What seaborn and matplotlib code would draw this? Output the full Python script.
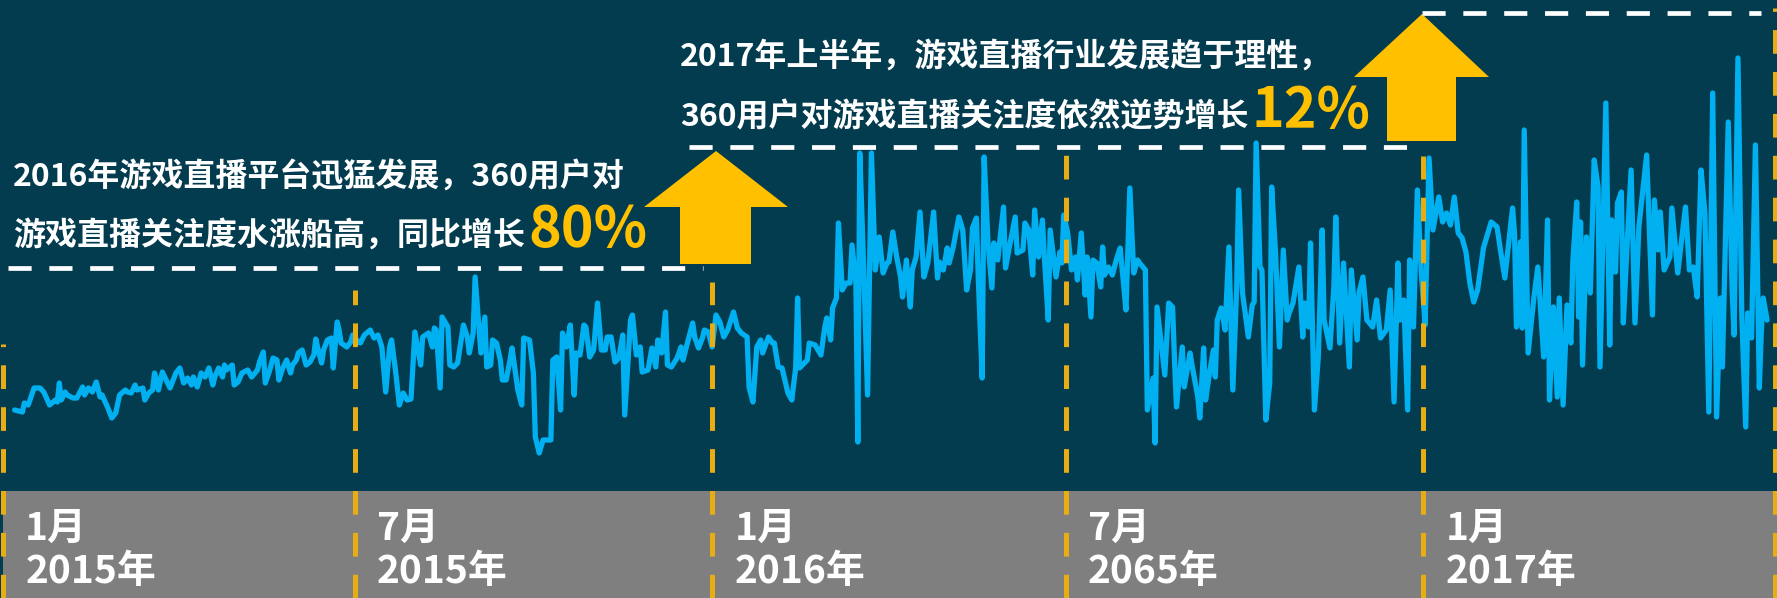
import pandas as pd
import seaborn as sns
import matplotlib.pyplot as plt
from matplotlib.patches import Polygon

plt.rcParams['font.family'] = ['Noto Sans CJK SC', 'DejaVu Sans']

# 360 游戏直播关注度 (index), x = days since 2015-01-01
h1_2015_days = [6, 10, 11, 13, 16, 19, 21, 24, 27, 28, 29, 30, 32, 33, 36, 38, 41, 42, 44, 46,
                48, 50, 51, 54, 56, 58, 60, 63, 64, 66, 68, 69, 72, 73, 75, 77, 78, 79, 80, 82,
                84, 86, 89, 91, 93, 95, 97, 98, 100, 102, 104, 106, 108, 109, 111, 113, 114, 115, 118, 119,
                121, 123, 126, 128, 131, 132, 134, 135, 137, 139, 141, 142, 144, 146, 148, 149, 151, 152, 154, 156,
                158, 160, 161, 162, 164, 165, 167, 169, 170, 172, 173, 174, 177, 179, 180]
h1_2015_vals = [81, 79, 88, 86, 103, 103, 99, 86, 91, 89, 108, 91, 99, 96, 93, 93, 104, 96, 103, 99,
                109, 94, 96, 83, 73, 78, 96, 101, 99, 98, 106, 101, 103, 91, 98, 101, 118, 111, 101, 119,
                111, 103, 118, 123, 108, 113, 106, 114, 104, 118, 114, 123, 106, 114, 123, 114, 126, 121, 126, 106,
                109, 118, 121, 114, 121, 129, 139, 108, 119, 133, 131, 111, 123, 131, 118, 126, 131, 138, 141, 126,
                129, 136, 152, 143, 128, 141, 151, 153, 123, 169, 161, 148, 144, 149, 156]

h2_2015_days = [183, 184, 186, 189, 191, 193, 195, 197, 199, 200, 202, 204, 206, 208, 210, 212, 215, 216, 219, 221,
                222, 223, 225, 226, 229, 230, 232, 234, 237, 239, 240, 242, 243, 246, 248, 249, 251, 252, 254, 256,
                257, 259, 261, 262, 265, 267, 268, 271, 273, 274, 276, 278, 282, 283, 285, 287, 288, 290, 292, 294,
                295, 297, 299, 300, 302, 304, 306, 308, 310, 311, 313, 315, 317, 319, 320, 323, 324, 326, 328, 329,
                332, 334, 336, 337, 339, 341, 342, 344, 347, 349, 350, 352, 355, 356, 358, 360, 361, 363]
h2_2015_vals = [149, 148, 156, 161, 153, 156, 144, 99, 144, 151, 121, 86, 98, 91, 92, 159, 126, 154, 158, 144,
                163, 161, 103, 174, 164, 126, 124, 128, 166, 154, 138, 158, 214, 138, 174, 124, 126, 151, 148, 131,
                111, 111, 131, 143, 101, 86, 153, 151, 118, 54, 38, 51, 51, 131, 134, 81, 158, 144, 166, 96,
                138, 136, 166, 164, 134, 141, 188, 141, 141, 154, 154, 129, 133, 156, 76, 171, 176, 136, 144, 119,
                121, 143, 124, 151, 138, 179, 126, 124, 133, 144, 131, 146, 168, 154, 143, 153, 161, 159]

h1_2016_days = [365, 367, 369, 371, 373, 376, 378, 380, 383, 384, 386, 388, 390, 391, 394, 396, 397, 399, 401, 404,
                406, 408, 409, 410, 414, 415, 418, 421, 423, 424, 426, 427, 429, 430, 432, 434, 436, 437, 439, 440,
                441, 443, 445, 447, 449, 451, 453, 455, 456, 458, 460, 462, 463, 465, 467, 468, 470, 472, 474, 476,
                479, 481, 482, 484, 486, 487, 489, 492, 494, 496, 498, 499, 501, 502, 504, 505, 507, 509, 510, 512,
                515, 516, 518, 521, 522, 525, 526, 528, 530, 531, 533, 535, 536, 538, 539, 542, 544, 545]
h1_2016_vals = [144, 176, 169, 154, 161, 179, 163, 158, 154, 104, 89, 144, 151, 138, 154, 148, 148, 124, 123, 98,
                91, 123, 193, 123, 131, 148, 146, 136, 164, 173, 151, 183, 193, 268, 201, 208, 208, 246, 208, 49,
                338, 224, 96, 338, 221, 254, 218, 228, 229, 259, 234, 214, 194, 231, 184, 221, 234, 279, 214, 228,
                279, 213, 229, 221, 243, 228, 243, 274, 261, 201, 221, 263, 273, 213, 113, 334, 248, 203, 248, 231,
                284, 223, 244, 274, 238, 241, 268, 261, 216, 281, 234, 271, 234, 171, 261, 214, 239, 228]

h2_2016_days = [546, 548, 550, 552, 553, 555, 557, 558, 560, 561, 563, 565, 566, 567, 569, 571, 573, 575, 576, 578,
                580, 582, 584, 585, 588, 589, 592, 593, 594, 598, 600, 602, 603, 604, 607, 608, 611, 612, 615, 616,
                618, 619, 621, 623, 624, 625, 627, 629, 631, 633, 635, 636, 638, 641, 643, 644, 645, 647, 648, 650,
                652, 653, 655, 657, 659, 661, 662, 664, 667, 669, 670, 672, 673, 675, 677, 679, 680, 683, 685, 686,
                688, 690, 693, 694, 697, 698, 700, 702, 705, 707, 709, 712, 714, 716, 718, 719, 721, 723, 724, 726, 728]
h2_2016_vals = [276, 258, 221, 234, 211, 258, 196, 234, 174, 231, 228, 204, 244, 216, 224, 216, 231, 243, 223, 181,
                303, 218, 231, 228, 221, 81, 113, 48, 184, 116, 188, 184, 131, 84, 144, 104, 138, 126, 94, 73,
                143, 91, 118, 141, 114, 171, 183, 161, 244, 101, 204, 301, 198, 154, 186, 189, 348, 224, 221, 71,
                108, 304, 238, 144, 241, 171, 178, 188, 224, 154, 188, 164, 248, 81, 134, 261, 171, 143, 204, 274,
                148, 228, 124, 221, 151, 199, 214, 171, 164, 191, 153, 161, 201, 89, 228, 171, 191, 81, 231, 164, 301]

h1_2017_days = [730, 732, 734, 736, 739, 741, 743, 745, 747, 749, 751, 753, 755, 757, 759, 762, 766, 769, 771, 773,
                777, 778, 779, 781, 782, 783, 785, 788, 790, 793, 795, 796, 798, 800, 801, 803, 805, 807, 808, 810,
                811, 812, 813, 815, 817, 819, 821, 822, 825, 827, 828, 830, 831, 833, 834, 836, 838, 840, 842, 846,
                849, 850, 852, 853, 855, 858, 859, 862, 866, 868, 870, 872, 874, 876, 878, 880, 882, 884, 885, 888,
                890, 891, 893, 895, 897, 898, 900, 902, 904, 905, 906, 908]
h1_2017_vals = [218, 166, 333, 261, 294, 269, 278, 266, 294, 258, 253, 239, 208, 189, 201, 243, 269, 264, 238, 213,
                283, 258, 164, 249, 163, 361, 138, 194, 224, 134, 271, 91, 184, 94, 193, 86, 186, 148, 229, 289,
                174, 269, 126, 254, 198, 331, 304, 124, 388, 146, 271, 219, 288, 299, 168, 248, 321, 168, 264, 336,
                176, 291, 241, 279, 221, 234, 283, 218, 284, 221, 224, 194, 321, 278, 79, 398, 74, 193, 124, 369,
                201, 156, 433, 174, 64, 178, 153, 346, 103, 158, 193, 171]

boundary_dates = ['2015-01-01', '2015-07-01', '2016-01-01', '2016-07-01', '2017-01-01', '2017-07-01']
band_months = ['1月', '7月', '1月', '7月', '1月']
band_years = ['2015年', '2015年', '2016年', '2065年', '2017年']

note_2016 = ['2016年游戏直播平台迅猛发展，360用户对', '游戏直播关注度水涨船高，同比增长']
note_2016_pct = '80%'
note_2017 = ['2017年上半年，游戏直播行业发展趋于理性，', '360用户对游戏直播关注度依然逆势增长']
note_2017_pct = '12%'

# ---- build the frame
start = pd.Timestamp('2015-01-01')
days = h1_2015_days + h2_2015_days + h1_2016_days + h2_2016_days + h1_2017_days
vals = h1_2015_vals + h2_2015_vals + h1_2016_vals + h2_2016_vals + h1_2017_vals
df = pd.DataFrame({'day': days, 'value': vals})
df['date'] = start + pd.to_timedelta(df['day'], unit='D')
bounds = pd.to_datetime(boundary_dates)

bg = '#033B4F'
blue = '#00B0F0'
gold = '#FFC000'
dash_gold = '#E9AD14'
W, H = 1777, 598

fig = plt.figure(figsize=(W / 100, H / 100), dpi=100, facecolor=bg)
ax = fig.add_axes([0, 0, 1, 1])
ax.set_facecolor(bg)
ax.set_xlim(start - pd.Timedelta(days=1.54), start + pd.Timedelta(days=913.1))
ax.set_ylim(-107, 491)
ax.axis('off')

# gray date band
ax.axhspan(-107, 0, xmin=3 / W, xmax=1, color='#7F7F7F', lw=0, zorder=0.5)

sns.lineplot(data=df, x='date', y='value', ax=ax, color=blue, linewidth=3.8,
             legend=False, zorder=2, solid_joinstyle='round', solid_capstyle='round')

# dashed period separators
vline_tops = [147, 201, 209, 338, 335, 483]
for d, top in zip(bounds, vline_tops):
    ax.plot([d, d], [-107, top], color=dash_gold, lw=3.6, linestyle=(0, (4.74, 3.64)),
            dash_capstyle='butt', zorder=3)

for d, m, y in zip(bounds[:-1], band_months, band_years):
    ax.annotate(m, xy=(d, 0), xytext=(16, -35.5), textcoords='offset points',
                color='white', fontsize=28, fontweight='bold', ha='left', va='baseline')
    ax.annotate(y, xy=(d, 0), xytext=(16, -66.5), textcoords='offset points',
                color='white', fontsize=28, fontweight='bold', ha='left', va='baseline')

# overlay in pixel space for the callouts
ov = fig.add_axes([0, 0, 1, 1], zorder=5)
ov.set_xlim(0, W)
ov.set_ylim(H, 0)
ov.axis('off')
ov.patch.set_alpha(0)

dash = dict(color='white', lw=3.4, linestyle=(0, (4.9, 3.75)), dash_capstyle='butt')
ov.plot([8, 703], [268, 268], **dash)
ov.plot([689, 1422], [147, 147], **dash)
ov.plot([1422, 1761], [13, 13], **dash)

ov.add_patch(Polygon([(680, 264), (680, 207), (644, 207), (716, 151), (788, 207), (751, 207), (751, 264)],
                     closed=True, color=gold, lw=0))
ov.add_patch(Polygon([(1387, 141), (1387, 77), (1354, 77), (1422, 14), (1489, 77), (1456, 77), (1456, 141)],
                     closed=True, color=gold, lw=0))

txt = dict(color='white', fontsize=23, fontweight='bold', ha='left', va='baseline')
pct = dict(color=gold, fontsize=40, fontweight='bold', ha='left', va='baseline')
ov.text(13, 187, note_2016[0], **txt)
t1 = ov.text(13, 245, note_2016[1], **txt)
ov.text(680, 67, note_2017[0], **txt)
t2 = ov.text(680, 126, note_2017[1], **txt)

# put the big percentages right after the end of their lines
fig.canvas.draw()
inv = ov.transData.inverted()
for t, s, yb in [(t1, note_2016_pct, 246), (t2, note_2017_pct, 127)]:
    x_end = inv.transform(t.get_window_extent().p1)[0]
    ov.text(x_end + 3, yb, s, **pct)

fig.savefig('out.png', dpi=100, facecolor=bg)
